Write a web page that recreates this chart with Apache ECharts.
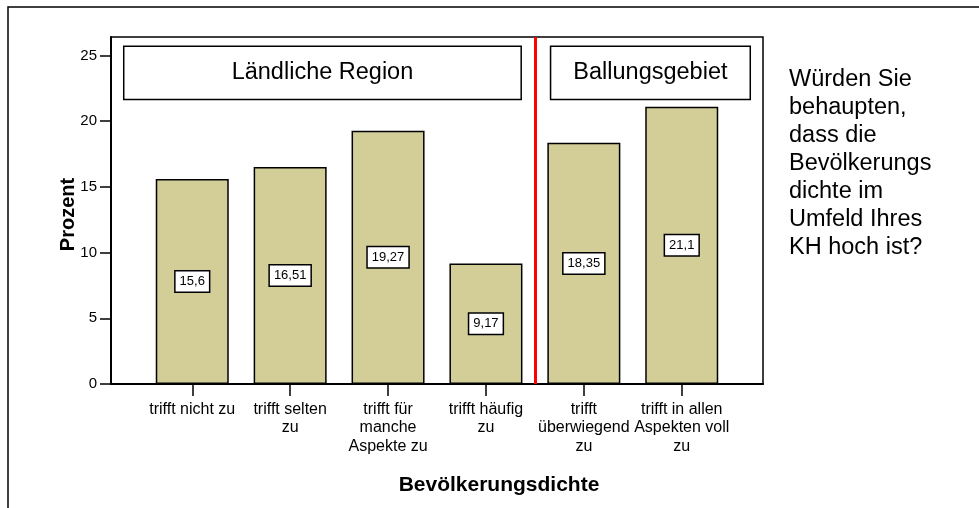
<!DOCTYPE html>
<html>
<head>
<meta charset="utf-8">
<script src="https://cdn.jsdelivr.net/npm/echarts@6/dist/echarts.min.js"></script>
<style>
    html, body { margin: 0; padding: 0; background: #fff; }
    #chart { width: 979px; height: 508px; }
</style>
</head>
<body>
<div id="chart"></div>
<script>
// Values
const categories = [
    'trifft nicht zu',
    'trifft selten\nzu',
    'trifft für\nmanche\nAspekte zu',
    'trifft häufig\nzu',
    'trifft\nüberwiegend\nzu',
    'trifft in allen\nAspekten voll\nzu'
];
const percentValues = [15.6, 16.51, 19.27, 9.17, 18.35, 21.1];
const yTicks = [0, 5, 10, 15, 20, 25];
const regionNames = ['Ländliche Region', 'Ballungsgebiet'];
const questionText = 'Würden Sie\nbehaupten,\ndass die\nBevölkerungs\ndichte im\nUmfeld Ihres\nKH hoch ist?';

const FONT = '"Liberation Sans", Arial, sans-serif';
const positions = categories.map((c, i) => i);

const chart = echarts.init(document.getElementById('chart'));

chart.setOption({
    animation: false,
    textStyle: { fontFamily: FONT, color: '#000' },
    title: {
        text: questionText,
        left: 789,
        top: 66,
        padding: 0,
        textStyle: { fontFamily: FONT, fontSize: 23.5, fontWeight: 'normal', color: '#000', lineHeight: 28 }
    },
    graphic: [{
        // outer frame of the picture
        type: 'rect',
        shape: { x: 8, y: 7, width: 1000, height: 600 },
        style: { fill: 'none', stroke: '#000', lineWidth: 1.5 },
        silent: true
    }],
    grid: {
        left: 111,
        right: 216,
        top: 37,
        bottom: 124,
        show: true,
        borderColor: '#000',
        borderWidth: 1.5,
        backgroundColor: 'transparent'
    },
    xAxis: {
        type: 'value',
        min: -0.83,
        max: 5.83,
        name: 'Bevölkerungsdichte',
        nameLocation: 'middle',
        nameGap: 91,
        nameMoveOverlap: false,
        nameTextStyle: {
            fontFamily: FONT, fontSize: 21, fontWeight: 'bold', color: '#000',
            padding: [0, 0, 0, 124]
        },
        splitLine: { show: false },
        axisLine: { show: true, onZero: false, lineStyle: { color: '#000', width: 2 } },
        axisTick: { show: true, customValues: positions, length: 12, lineStyle: { color: '#000', width: 1.5 } },
        axisLabel: {
            customValues: positions,
            formatter: v => categories[Math.round(v)],
            margin: 16,
            fontFamily: FONT,
            fontSize: 16,
            lineHeight: 18.5,
            color: '#000'
        }
    },
    yAxis: {
        type: 'value',
        min: 0,
        max: 26.4,
        name: 'Prozent',
        nameLocation: 'middle',
        nameGap: 33,
        nameMoveOverlap: false,
        nameTextStyle: {
            fontFamily: FONT, fontSize: 20, fontWeight: 'bold', color: '#000',
            padding: [0, 8, 0, 0]
        },
        splitLine: { show: false },
        axisLine: { show: true, onZero: false, lineStyle: { color: '#000', width: 2 } },
        axisTick: { show: true, customValues: yTicks, length: 11, lineStyle: { color: '#000', width: 1.5 } },
        axisLabel: {
            customValues: yTicks,
            margin: 14,
            fontFamily: FONT,
            fontSize: 15,
            color: '#000'
        }
    },
    series: [{
        type: 'bar',
        data: percentValues.map((v, i) => [positions[i], v]),
        barWidth: 73,
        itemStyle: { color: '#d3ce98', borderColor: '#000', borderWidth: 1.5 },
        label: {
            show: true,
            position: 'inside',
            formatter: p => String(p.value[1]).replace('.', ','),
            fontFamily: FONT,
            fontSize: 13,
            color: '#000',
            backgroundColor: '#fff',
            borderColor: '#000',
            borderWidth: 1.5,
            padding: [4, 4, 3, 4]
        },
        markLine: {
            silent: true,
            symbol: 'none',
            label: { show: false },
            lineStyle: { color: '#ff0000', width: 3, type: 'solid' },
            data: [{ xAxis: 3.5 }]
        },
        markArea: {
            silent: true,
            itemStyle: { color: '#fff', borderColor: '#000', borderWidth: 1.5 },
            label: {
                show: true,
                position: 'inside',
                fontFamily: FONT,
                fontSize: 23.5,
                color: '#000'
            },
            data: [
                [{ name: regionNames[0], xAxis: -0.7, yAxis: 25.7 }, { xAxis: 3.36, yAxis: 21.65 }],
                [{ name: regionNames[1], xAxis: 3.66, yAxis: 25.7 }, { xAxis: 5.7, yAxis: 21.65 }]
            ]
        }
    }]
});
</script>
</body>
</html>
